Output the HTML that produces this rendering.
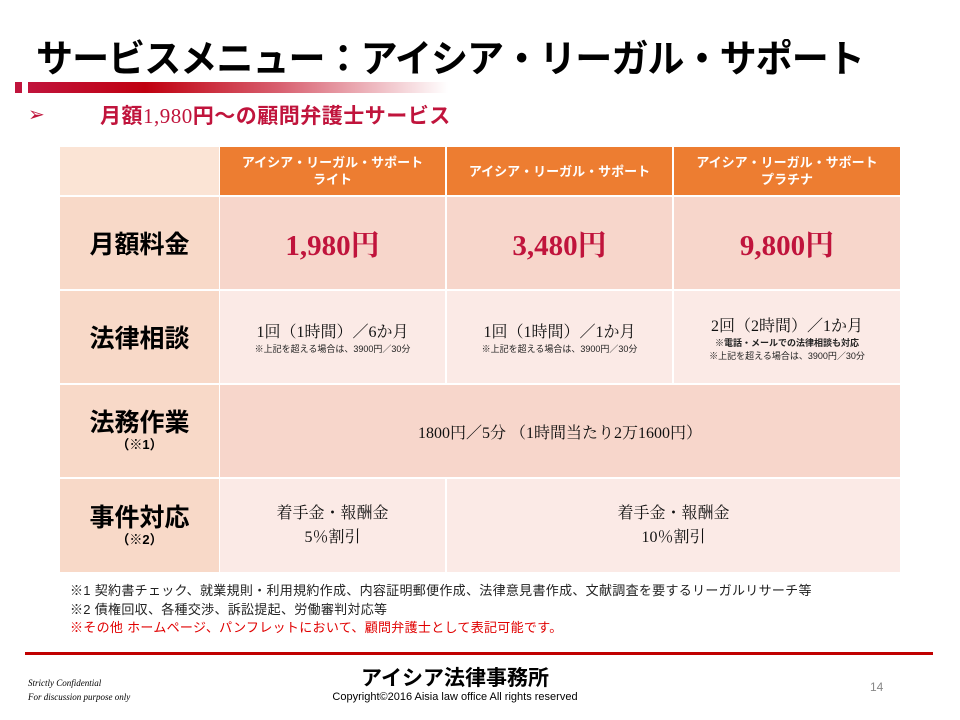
<!DOCTYPE html>
<html><head><meta charset="utf-8"><style>
body{margin:0;width:960px;height:720px;background:#fff;position:relative;overflow:hidden;font-family:"Liberation Sans","Noto Sans CJK JP",sans-serif}
.a{position:absolute}
.t{left:36px;top:28px;font-size:38px;font-weight:bold;color:#000;letter-spacing:-1px;white-space:nowrap;transform:scaleX(0.975);transform-origin:left top}
.c{position:absolute;display:flex;flex-direction:column;align-items:center;justify-content:center;text-align:center;box-sizing:border-box}
.h{background:#ED7D31;color:#fff;font-weight:bold;font-size:13px;line-height:17px}
.l{background:#F8D9C8;font-weight:bold;font-size:25px;color:#000}
.p1{background:#F7D6CB}
.p2{background:#FBEAE6}
.price{font-family:"Liberation Serif","Noto Serif CJK SC",serif;font-weight:bold;font-size:29px;color:#C0143C}
.s{font-family:"Liberation Serif","Noto Serif CJK SC",serif;font-size:16px;color:#111}
.sm{font-size:9px;color:#222}
.n{font-size:13px;color:#222;left:70px;white-space:nowrap;letter-spacing:0.3px}
</style></head><body>
<div class="a t">サービスメニュー：アイシア・リーガル・サポート</div>
<div class="a" style="left:15px;top:82px;width:7px;height:11px;background:#C0143C"></div>
<div class="a" style="left:28px;top:82px;width:420px;height:11px;background:linear-gradient(90deg,#C0143C,#C00010 28%,#D86070 60%,#fff)"></div>
<div class="a" style="left:28px;top:102px;color:#C0143C;font-size:20px">➢</div>
<div class="a" style="left:100px;top:100px;color:#C0143C;font-size:21px;font-weight:bold;white-space:nowrap;letter-spacing:0.5px">月額<span style="font-family:'Liberation Serif',serif;font-weight:normal">1,980</span>円～の顧問弁護士サービス</div>

<div class="c" style="left:60px;top:147px;width:159px;height:48px;background:#FBE4D5"></div>
<div class="c h" style="left:220px;top:147px;width:225px;height:48px">アイシア・リーガル・サポート<br>ライト</div>
<div class="c h" style="left:447px;top:147px;width:225px;height:48px">アイシア・リーガル・サポート</div>
<div class="c h" style="left:674px;top:147px;width:226px;height:48px">アイシア・リーガル・サポート<br>プラチナ</div>

<div class="c l" style="left:60px;top:197px;width:159px;height:92px">月額料金</div>
<div class="c p1 price" style="left:220px;top:197px;width:225px;height:92px">1,980円</div>
<div class="c p1 price" style="left:447px;top:197px;width:225px;height:92px">3,480円</div>
<div class="c p1 price" style="left:674px;top:197px;width:226px;height:92px">9,800円</div>

<div class="c l" style="left:60px;top:291px;width:159px;height:92px">法律相談</div>
<div class="c p2" style="left:220px;top:291px;width:225px;height:92px"><div class="s">1回（1時間）／6か月</div><div class="sm">※上記を超える場合は、3900円／30分</div></div>
<div class="c p2" style="left:447px;top:291px;width:225px;height:92px"><div class="s">1回（1時間）／1か月</div><div class="sm">※上記を超える場合は、3900円／30分</div></div>
<div class="c p2" style="left:674px;top:291px;width:226px;height:92px"><div class="s">2回（2時間）／1か月</div><div class="sm" style="font-weight:bold">※電話・メールでの法律相談も対応</div><div class="sm">※上記を超える場合は、3900円／30分</div></div>

<div class="c l" style="left:60px;top:385px;width:159px;height:92px;line-height:28px">法務作業<span style="font-size:13px;line-height:16px">（※1）</span></div>
<div class="c p1 s" style="left:220px;top:385px;width:680px;height:92px">1800円／5分 （1時間当たり2万1600円）</div>

<div class="c l" style="left:60px;top:479px;width:159px;height:93px;line-height:28px">事件対応<span style="font-size:13px;line-height:16px">（※2）</span></div>
<div class="c p2 s" style="left:220px;top:479px;width:225px;height:93px;line-height:24px">着手金・報酬金<br>5％割引</div>
<div class="c p2 s" style="left:447px;top:479px;width:453px;height:93px;line-height:24px">着手金・報酬金<br>10％割引</div>

<div class="a n" style="top:580px">※1 契約書チェック、就業規則・利用規約作成、内容証明郵便作成、法律意見書作成、文献調査を要するリーガルリサーチ等</div>
<div class="a n" style="top:599px">※2 債権回収、各種交渉、訴訟提起、労働審判対応等</div>
<div class="a n" style="top:617px;color:#E00000">※その他 ホームページ、パンフレットにおいて、顧問弁護士として表記可能です。</div>

<div class="a" style="left:25px;top:652px;width:908px;height:3px;background:#C00000"></div>
<div class="a" style="left:28px;top:676px;font-family:'Liberation Serif',serif;font-style:italic;font-size:9px;line-height:14px">Strictly Confidential<br>For discussion purpose only</div>
<div class="a" style="left:330px;top:662px;width:250px;text-align:center;font-size:21px;font-weight:bold">アイシア法律事務所</div>
<div class="a" style="left:280px;top:691px;width:350px;text-align:center;font-size:11px">Copyright©2016 Aisia law office All rights reserved</div>
<div class="a" style="left:870px;top:680px;font-size:12px;color:#888">14</div>
</body></html>
